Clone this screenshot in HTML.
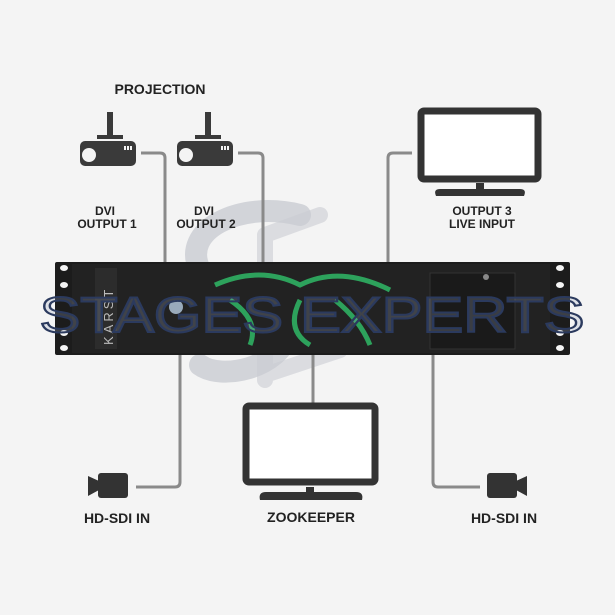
<!DOCTYPE html>
<html><head><style>
html,body{margin:0;padding:0;background:#f4f4f4;}
svg{display:block}
text{font-family:"Liberation Sans",sans-serif;fill:#222;font-weight:bold}
</style></head><body>
<svg width="615" height="615" viewBox="0 0 615 615" xmlns="http://www.w3.org/2000/svg">
<rect width="615" height="615" fill="#f4f4f4"/>
<path d="M300 215 C240 200 180 230 200 270 C215 300 300 290 290 330 C280 370 220 380 200 365" fill="none" stroke="#c9ccd2" stroke-width="22" stroke-linecap="round" opacity="0.8"/>
<path d="M265 235 L265 380 M265 300 L330 300 M265 375 L340 350 M265 235 L320 215" fill="none" stroke="#c9ccd2" stroke-width="16" stroke-linecap="round" opacity="0.6"/>
<g fill="none" stroke="#8a8a8a" stroke-width="3">
<path d="M141 153 H160 Q165 153 165 158 V262"/>
<path d="M238 153 H258 Q263 153 263 158 V262"/>
<path d="M412 153 H393 Q388 153 388 158 V262"/>
<path d="M180 355 V482 Q180 487 175 487 H136"/>
<path d="M313 355 V403"/>
<path d="M433 355 V482 Q433 487 438 487 H480"/>
</g>
<g fill="#3a3a3a">
<rect x="107" y="112" width="6" height="24"/><rect x="97" y="135" width="26" height="4"/>
<rect x="80" y="141" width="56" height="25" rx="5"/>
<rect x="205" y="112" width="6" height="24"/><rect x="195" y="135" width="26" height="4"/>
<rect x="177" y="141" width="56" height="25" rx="5"/>
</g>
<g fill="#f4f4f4"><circle cx="89" cy="155" r="7"/><circle cx="186" cy="155" r="7"/>
<rect x="124" y="146" width="2" height="4"/><rect x="127" y="146" width="2" height="4"/><rect x="130" y="146" width="2" height="4"/>
<rect x="221" y="146" width="2" height="4"/><rect x="224" y="146" width="2" height="4"/><rect x="227" y="146" width="2" height="4"/></g>
<rect x="421" y="111" width="117" height="68" rx="3" fill="#fff" stroke="#333" stroke-width="7"/>
<rect x="476" y="183" width="8" height="6" fill="#333"/>
<path d="M436 196 Q433 189 440 189 H520 Q527 189 524 196 Z" fill="#333"/>
<rect x="246" y="406" width="129" height="76" rx="3" fill="#fff" stroke="#333" stroke-width="7"/>
<rect x="306" y="487" width="8" height="5" fill="#333"/>
<path d="M260 500 Q258 492 266 492 H356 Q364 492 362 500 Z" fill="#333"/>
<g fill="#333">
<rect x="98" y="473" width="30" height="25" rx="3"/><path d="M88 476 L99 481 V490 L88 496 Z"/>
<rect x="487" y="473" width="30" height="25" rx="3"/><path d="M527 476 L516 481 V490 L527 496 Z"/>
</g>
<rect x="55" y="262" width="515" height="93" rx="2" fill="#1c1c1c"/>
<rect x="72" y="264" width="478" height="89" fill="#222"/>
<rect x="95" y="268" width="22" height="81" fill="#2c2c2c"/>
<rect x="430" y="273" width="85" height="76" fill="#1a1a1a" stroke="#333"/>
<circle cx="486" cy="277" r="3" fill="#888"/>
<g fill="#f4f4f4"><ellipse cx="64" cy="268" rx="4" ry="3"/><ellipse cx="64" cy="348" rx="4" ry="3"/><ellipse cx="64" cy="333" rx="4" ry="3"/><ellipse cx="64" cy="285" rx="4" ry="3"/>
<ellipse cx="560" cy="268" rx="4" ry="3"/><ellipse cx="560" cy="348" rx="4" ry="3"/><ellipse cx="560" cy="333" rx="4" ry="3"/><ellipse cx="560" cy="285" rx="4" ry="3"/></g>
<text x="0" y="0" transform="translate(113,345) rotate(-90)" style="fill:#bbb;font-weight:normal;font-size:13px;letter-spacing:3px">KARST</text>
<circle cx="176" cy="307" r="7" fill="#9ab"/>
<path d="M215 285 Q260 265 300 285 Q340 265 390 290 M230 300 Q260 320 250 345 M300 300 Q285 330 310 345 M335 300 Q360 320 370 345" fill="none" stroke="#2fb866" stroke-width="5" opacity="0.85"/>
<text x="312" y="332" text-anchor="middle" style="font-size:50px;font-weight:normal;fill:#9aa6c0;fill-opacity:0.25;stroke:#2b3a5e;stroke-width:2" textLength="545" lengthAdjust="spacingAndGlyphs">STAGES EXPERTS</text>
<text x="160" y="94" text-anchor="middle" font-size="14">PROJECTION</text>
<g style="font-size:12px">
<text x="105" y="215" text-anchor="middle" style="font-weight:600">DVI</text>
<text x="107" y="228" text-anchor="middle" style="font-weight:600">OUTPUT 1</text>
<text x="204" y="215" text-anchor="middle" style="font-weight:600">DVI</text>
<text x="206" y="228" text-anchor="middle" style="font-weight:600">OUTPUT 2</text>
<text x="482" y="215" text-anchor="middle" style="font-weight:600">OUTPUT 3</text>
<text x="482" y="228" text-anchor="middle" style="font-weight:600">LIVE INPUT</text>
</g>
<text x="117" y="523" text-anchor="middle" font-size="14">HD-SDI IN</text>
<text x="311" y="522" text-anchor="middle" font-size="14">ZOOKEEPER</text>
<text x="504" y="523" text-anchor="middle" font-size="14">HD-SDI IN</text>
</svg>
</body></html>
